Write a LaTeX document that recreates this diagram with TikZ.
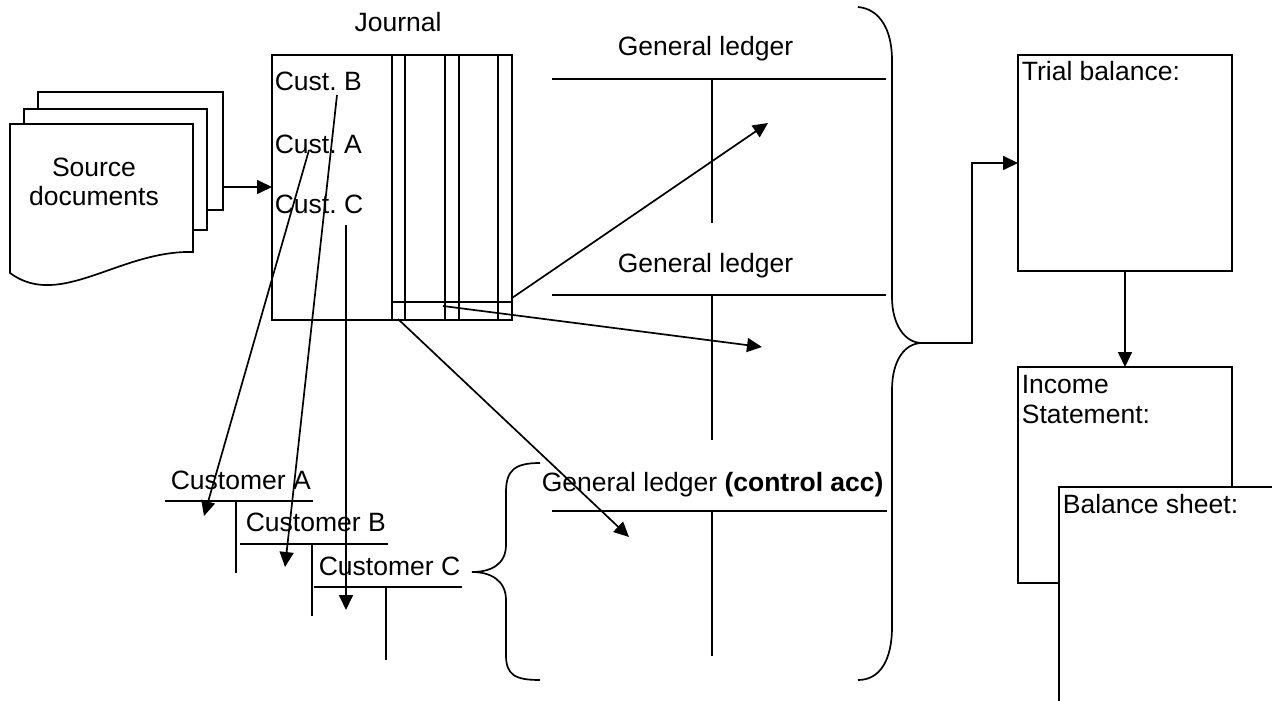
\documentclass[tikz,border=0pt]{standalone}
\usepackage{fontspec}
\setmainfont{Liberation Sans}
\usetikzlibrary{arrows.meta}
\frenchspacing
\begin{document}
\begin{tikzpicture}[x=1pt,y=-1pt, line width=1.7pt,
  lbl/.style={inner sep=0pt, font=\fontsize{26.5}{29}\selectfont, anchor=base west},
  box/.style={draw, fill=white, inner sep=0pt, outer sep=0pt, anchor=north west},
  arr/.style={-{Triangle[length=15pt,width=14pt]}}]
\useasboundingbox (0,0) rectangle (1272,701);
\clip (0,0) rectangle (1272,701);

% source documents
\draw[fill=white] (38,92) rectangle (223,210);
\draw[fill=white] (24,109) rectangle (207,230);
\draw[fill=white] (10,124) -- (193,124) -- (193,252) .. controls (120,250) and (60,310) .. (10,273) -- cycle;
\node[inner sep=0pt, align=center, font=\fontsize{26.5}{29}\selectfont] (src) at (94,182) {Source\\documents};
\coordinate (srcout) at (223,187);

% journal
\node[box, minimum width=240pt, minimum height=265pt] (journal) at (272,55) {};
\foreach \x in {392,405,445,459,498} \draw (\x,55) -- (\x,320);
\draw (392,302) -- (512,302);
\node[lbl, anchor=base] (jlbl) at (398,32) {Journal};
\node[lbl] (cb) at (274,91) {Cust. B};
\node[lbl] (ca) at (274,153) {Cust. A};
\node[lbl] (cc) at (274,213) {Cust. C};
\draw[arr] (srcout) -- (srcout -| journal.west);

% general ledgers
\node[lbl] (gl1) at (617,56) {General ledger};
\draw (552,79) -- (886,79); \draw (712,79) -- (712,223);
\node[lbl] (gl2) at (617,272) {General ledger};
\draw (552,295) -- (886,295); \draw (712,295) -- (712,440);
\node[lbl] (gl3) at (541,491) {General ledger \textbf{(control acc)}};
\draw (552,511) -- (887,511); \draw (712,511) -- (712,656);

% customer ledgers
\node[lbl] (custA) at (170,489) {Customer A};
\draw (165,501) -- (313,501); \draw (236,501) -- (236,573);
\node[lbl] (custB) at (245,531) {Customer B};
\draw (240,544) -- (388,544); \draw (312,544) -- (312,616);
\node[lbl] (custC) at (318,575) {Customer C};
\draw (314,587) -- (462,587); \draw (386,587) -- (386,660);

% arrows from journal
\coordinate (j1) at (512,298); \coordinate (t1) at (768,123);
\coordinate (j2) at (443,306); \coordinate (t2) at (762,347);
\coordinate (j3) at (398,319); \coordinate (t3) at (629,537);
\draw[arr] (j1) -- (t1);
\draw[arr] (j2) -- (t2);
\draw[arr] (j3) -- (t3);
\coordinate (sB) at (337,95);  \coordinate (eB) at (285,567);
\coordinate (sA) at (309,150); \coordinate (eA) at (204,516);
\coordinate (sC) at (346,225); \coordinate (eC) at (346,610);
\draw[arr] (sB) -- (eB);
\draw[arr] (sA) -- (eA);
\draw[arr] (sC) -- (eC);

% small brace
\draw (540,463) .. controls (515,463) and (506,470) .. (506,492) -- (506,545)
  .. controls (506,565) and (490,572) .. (472,572)
  .. controls (490,572) and (506,580) .. (506,600) -- (506,655)
  .. controls (506,675) and (515,680) .. (540,680);

% big brace
\coordinate (btip) at (922,343);
\draw (858,7) .. controls (880,9) and (892,30) .. (892,60) -- (892,297)
  .. controls (892,325) and (905,343) .. (btip)
  .. controls (905,343) and (892,360) .. (892,390) -- (892,627)
  .. controls (892,660) and (880,680) .. (858,680);

% statements
\node[box, minimum width=214pt, minimum height=216pt] (trial) at (1018,55) {};
\node[lbl] (triallbl) at (1021,81) {Trial balance:};
\node[box, minimum width=214pt, minimum height=216pt] (income) at (1018,367) {};
\node[lbl] (inclbl1) at (1021,393) {Income};
\node[lbl] (inclbl2) at (1021,423) {Statement:};
\node[box, minimum width=260pt, minimum height=260pt] (balance) at (1059,487) {};
\node[lbl] (ballbl) at (1062,513) {Balance sheet:};

\draw[arr] (btip) -- (972,343) |- (trial.west);
\draw[arr] (trial.south) -- (income.north);
\end{tikzpicture}
\end{document}
